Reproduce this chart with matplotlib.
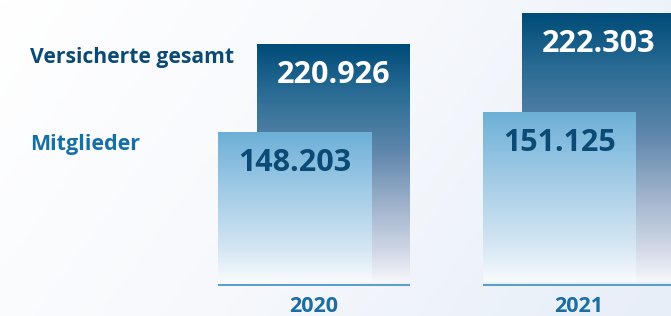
import matplotlib.pyplot as plt
import numpy as np
from matplotlib.colors import LinearSegmentedColormap

# data
jahre = ["2020", "2021"]
versicherte = [220926, 222303]
mitglieder = [148203, 151125]
labels_vers = ["220.926", "222.303"]
labels_mitgl = ["148.203", "151.125"]

plt.rcParams['font.family'] = ['Open Sans', 'DejaVu Sans']

W, H = 671, 316
fig = plt.figure(figsize=(W / 100, H / 100), dpi=100)

# hintergrund
bg = fig.add_axes([0, 0, 1, 1])
gx = np.linspace(0, 1, 200)
gy = np.linspace(0, 1, 100)
GX, GY = np.meshgrid(gx, gy)
grad = 0.75 * GX + 0.25 * GY
bg_cmap = LinearSegmentedColormap.from_list("bg", ["#ffffff", "#f6f8fc", "#e6eef8"])
bg.imshow(grad, cmap=bg_cmap, aspect='auto', extent=(0, 1, 0, 1), origin='upper')
bg.set_axis_off()

cm_dunkel = LinearSegmentedColormap.from_list(
    "dunkel", [(0, "#004b78"), (0.19, "#276a93"), (0.45, "#5f86ab"),
               (0.66, "#9aafc9"), (0.87, "#d0d7e6"), (1, "#f6f7fb")])
cm_hell = LinearSegmentedColormap.from_list(
    "hell", [(0, "#6cafd6"), (0.12, "#7db8dc"), (0.45, "#a9cfe8"),
             (0.78, "#d4e6f3"), (1, "#f8fbfd")])

breite = 1.0
versatz = 0.255
bar_unten = 282          # pixel von oben
ax_links = [218, 483]
# y-achsen je jahr (grafik ist nicht massstabsgetreu)
ylims = [(24243, 257288), (28892, 231650)]

col_text = "#0b4a74"
col_hell = "#1670a6"

def verlauf(ax, patch, cmap):
    x0 = patch.get_x()
    x1 = x0 + patch.get_width()
    top = patch.get_height()
    img = ax.imshow(np.linspace(0, 1, 256).reshape(-1, 1), cmap=cmap, aspect='auto',
                    extent=(x0, x1, ax.get_ylim()[0], top), origin='upper', zorder=patch.get_zorder())
    img.set_clip_path(patch)

for i, jahr in enumerate(jahre):
    ax_w = (breite + versatz) * 153
    ax = fig.add_axes([ax_links[i] / W, (H - bar_unten) / H, ax_w / W, bar_unten / H])
    ax.set_facecolor('none')
    ax.set_xlim(0, breite + versatz)
    ax.set_ylim(*ylims[i])
    ax.set_axis_off()

    b_hinten = ax.bar(versatz, versicherte[i], width=breite, align='edge',
                      facecolor='none', edgecolor='none', zorder=1)[0]
    b_vorne = ax.bar(0, mitglieder[i], width=breite, align='edge',
                     facecolor='none', edgecolor='none', zorder=2)[0]
    verlauf(ax, b_hinten, cm_dunkel)
    verlauf(ax, b_vorne, cm_hell)

    ax.annotate(labels_vers[i], (versatz + breite / 2, versicherte[i]), xytext=(0, -22.5),
                textcoords='offset points', ha='center', va='center', color='white',
                fontsize=22, fontweight='bold', zorder=5)
    ax.annotate(labels_mitgl[i], (breite / 2, mitglieder[i]), xytext=(0, -22.5),
                textcoords='offset points', ha='center', va='center', color=col_text,
                fontsize=22, fontweight='bold', zorder=5)

    tr = ax.get_xaxis_transform()
    ax.plot([0, breite + versatz], [-3 / bar_unten] * 2, transform=tr, color="#3d8fc4",
            lw=1.2, clip_on=False, solid_capstyle='butt')
    ax.text((breite + versatz) / 2, -29.5 / bar_unten, jahr, transform=tr, ha='center',
            va='baseline', color="#1a6ea3", fontsize=15.5, fontweight='bold')

fig.text(30 / W, (H - 63) / H, "Versicherte gesamt", color=col_text, fontsize=15.2,
         fontweight='bold', ha='left', va='baseline')
fig.text(30 / W, (H - 150) / H, "Mitglieder", color=col_hell, fontsize=15.5,
         fontweight='bold', ha='left', va='baseline')

fig.savefig("out.png", dpi=100)
